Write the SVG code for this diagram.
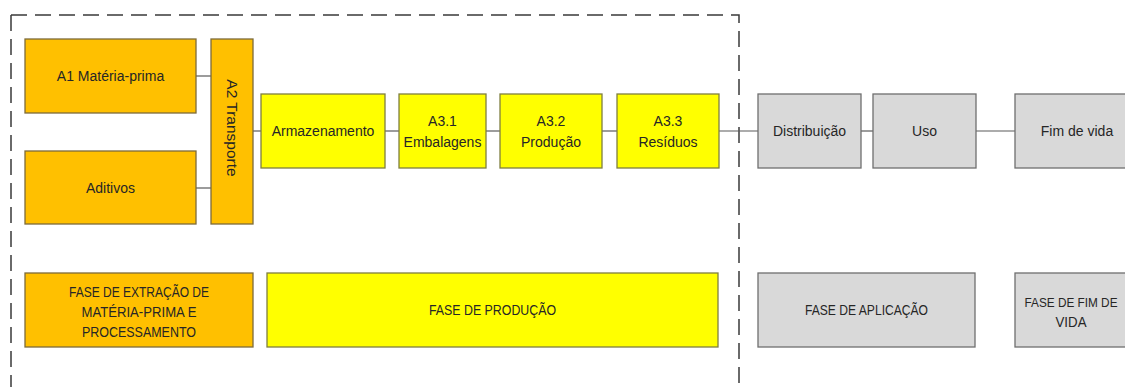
<svg xmlns="http://www.w3.org/2000/svg" width="1125" height="387" viewBox="0 0 1125 387">
<style>
  text { font-family: "Liberation Sans", Arial, sans-serif; font-size: 14px; fill: #262626; text-anchor: middle; }
  .cap { font-size: 15px; }
  .or { fill: #FFC000; stroke: #7d6b3a; stroke-width: 1.3; }
  .ye { fill: #FFFF00; stroke: #7f7f40; stroke-width: 1.3; }
  .gr { fill: #D9D9D9; stroke: #6f6f6f; stroke-width: 1.3; }
  .con line { stroke: #5a5a5a; stroke-width: 1.2; }
  .dash { fill: none; stroke: #3a3a3a; stroke-width: 1.5; stroke-dasharray: 16 8; }
</style>
<rect width="1125" height="387" fill="#ffffff"/>
<g id="boundary">
  <path class="dash" d="M11,15 H739 V387"/>
  <path class="dash" d="M11,15 V387"/>
</g>
<g id="connectors" class="con">
  <line x1="196" y1="76" x2="211" y2="76"/>
  <line x1="196" y1="188" x2="211" y2="188"/>
  <line x1="253" y1="131" x2="261" y2="131"/>
  <line x1="385" y1="131" x2="399" y2="131"/>
  <line x1="486" y1="131" x2="500" y2="131"/>
  <line x1="602" y1="131" x2="617" y2="131"/>
  <line x1="719" y1="131" x2="758" y2="131"/>
  <line x1="861" y1="131" x2="873" y2="131"/>
  <line x1="976" y1="131" x2="1015" y2="131"/>
</g>
<g id="a1">
  <rect class="or" x="25" y="39" width="171" height="74"/>
  <text x="110.5" y="81">A1 Matéria-prima</text>
</g>
<g id="aditivos">
  <rect class="or" x="25" y="151" width="171" height="73"/>
  <text x="110.5" y="193">Aditivos</text>
</g>
<g id="a2">
  <rect class="or" x="211" y="39" width="42" height="185"/>
  <text transform="translate(227,128) rotate(90)" style="font-size:15.5px">A2 Transporte</text>
</g>
<g id="armazenamento">
  <rect class="ye" x="261" y="94" width="124" height="74"/>
  <text x="323" y="136">Armazenamento</text>
</g>
<g id="a31">
  <rect class="ye" x="399" y="94" width="87" height="74"/>
  <text x="442.5" y="125.5">A3.1</text>
  <text x="442.5" y="146.5">Embalagens</text>
</g>
<g id="a32">
  <rect class="ye" x="500" y="94" width="102" height="74"/>
  <text x="551" y="125.5">A3.2</text>
  <text x="551" y="146.5">Produção</text>
</g>
<g id="a33">
  <rect class="ye" x="617" y="94" width="102" height="74"/>
  <text x="668" y="125.5">A3.3</text>
  <text x="668" y="146.5">Resíduos</text>
</g>
<g id="distribuicao">
  <rect class="gr" x="758" y="94" width="103" height="74"/>
  <text x="809.5" y="136">Distribuição</text>
</g>
<g id="uso">
  <rect class="gr" x="873" y="94" width="103" height="74"/>
  <text x="924.5" y="136">Uso</text>
</g>
<g id="fimdevida">
  <rect class="gr" x="1015" y="94" width="112" height="74"/>
  <text x="1077" y="136">Fim de vida</text>
</g>
<g id="fase-extracao">
  <rect class="or" x="25" y="273" width="228" height="74"/>
  <text class="cap" x="139" y="297" textLength="140" lengthAdjust="spacingAndGlyphs">FASE DE EXTRAÇÃO DE</text>
  <text class="cap" x="139" y="317" textLength="115" lengthAdjust="spacingAndGlyphs">MATÉRIA-PRIMA E</text>
  <text class="cap" x="139" y="337" textLength="114" lengthAdjust="spacingAndGlyphs">PROCESSAMENTO</text>
</g>
<g id="fase-producao">
  <rect class="ye" x="267" y="273" width="451" height="74"/>
  <text class="cap" x="492.5" y="315" textLength="127" lengthAdjust="spacingAndGlyphs">FASE DE PRODUÇÃO</text>
</g>
<g id="fase-aplicacao">
  <rect class="gr" x="758" y="273" width="217" height="74"/>
  <text class="cap" x="866.5" y="315" textLength="123" lengthAdjust="spacingAndGlyphs">FASE DE APLICAÇÃO</text>
</g>
<g id="fase-fim">
  <rect class="gr" x="1015" y="273" width="112" height="74"/>
  <text x="1071" y="306.5" style="font-size:13.5px" textLength="93" lengthAdjust="spacingAndGlyphs">FASE DE FIM DE</text>
  <text class="cap" x="1071" y="326.5" textLength="31" lengthAdjust="spacingAndGlyphs">VIDA</text>
</g>
</svg>
